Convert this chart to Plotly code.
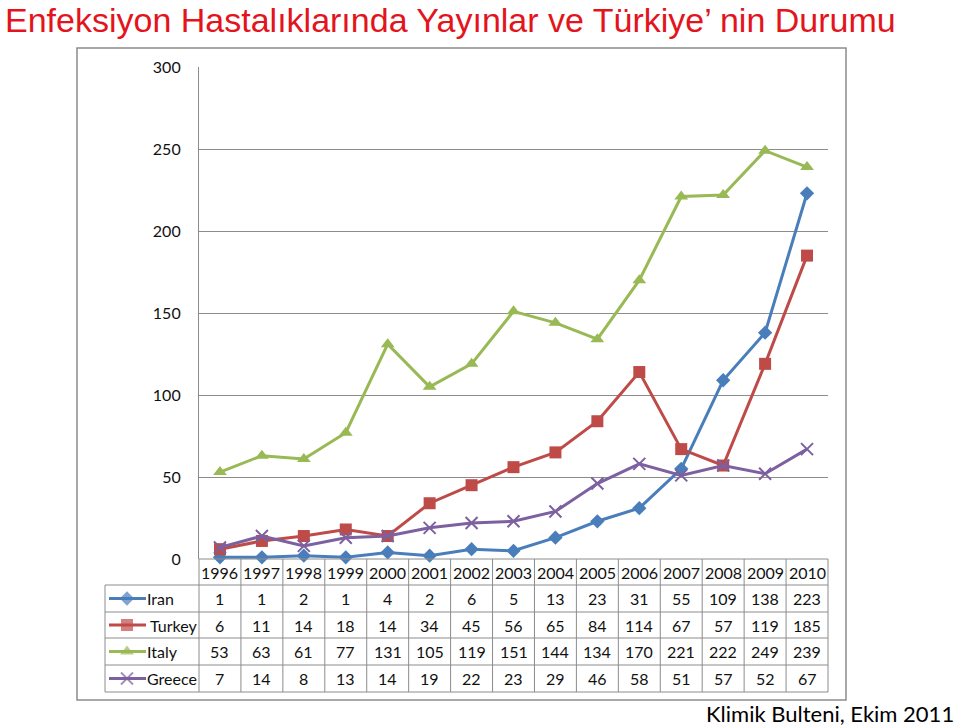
import plotly.graph_objects as go

years = ["1996", "1997", "1998", "1999", "2000", "2001", "2002", "2003",
         "2004", "2005", "2006", "2007", "2008", "2009", "2010"]
iran = [1, 1, 2, 1, 4, 2, 6, 5, 13, 23, 31, 55, 109, 138, 223]
turkey = [6, 11, 14, 18, 14, 34, 45, 56, 65, 84, 114, 67, 57, 119, 185]
italy = [53, 63, 61, 77, 131, 105, 119, 151, 144, 134, 170, 221, 222, 249, 239]
greece = [7, 14, 8, 13, 14, 19, 22, 23, 29, 46, 58, 51, 57, 52, 67]

series_names = ["Iran", "Turkey", "Italy", "Greece"]
series_values = [iran, turkey, italy, greece]
colors = ["#4A7EBB", "#BE4B48", "#98B954", "#7D60A0"]
symbols = ["diamond", "square", "triangle-up", "x-thin"]
msizes = [11, 12, 12, 12]

W, H = 960, 728
PX0, PX1 = 199, 828      # plot area left/right (px)
PY_TOP, PY_BOT = 67, 559  # plot area top/bottom (px)


def px(x):
    return x / W


def py(y):
    return 1 - y / H


fig = go.Figure()

for name, vals, c, s, ms in zip(series_names, series_values, colors, symbols, msizes):
    fig.add_trace(go.Scatter(
        x=years, y=vals, name=name, mode="lines+markers",
        line=dict(color=c, width=3),
        marker=dict(symbol=s, size=ms, color=c,
                    line=dict(color=c, width=2 if s == "x-thin" else 0)),
        cliponaxis=False, showlegend=False,
    ))

# table geometry (pixels)
tab_left = 105
row_edges = [559, 585, 612, 638, 665, 692]
ncat = len(years)
cw = (PX1 - PX0) / ncat
lc = "#8C8C8C"

shapes = []
# horizontal lines
shapes.append(dict(type="line", xref="paper", yref="paper",
                   x0=px(PX0), x1=px(PX1), y0=py(row_edges[0]), y1=py(row_edges[0]),
                   line=dict(color=lc, width=1)))
for ry in row_edges[1:]:
    shapes.append(dict(type="line", xref="paper", yref="paper",
                       x0=px(tab_left), x1=px(PX1), y0=py(ry), y1=py(ry),
                       line=dict(color=lc, width=1)))
# vertical lines
for i in range(ncat + 1):
    xx = PX0 + i * cw
    shapes.append(dict(type="line", xref="paper", yref="paper",
                       x0=px(xx), x1=px(xx), y0=py(row_edges[0]), y1=py(row_edges[-1]),
                       line=dict(color=lc, width=1)))
shapes.append(dict(type="line", xref="paper", yref="paper",
                   x0=px(tab_left), x1=px(tab_left), y0=py(row_edges[1]), y1=py(row_edges[-1]),
                   line=dict(color=lc, width=1)))
# outer box
shapes.append(dict(type="rect", xref="paper", yref="paper",
                   x0=px(77), x1=px(846), y0=py(48), y1=py(700),
                   line=dict(color="#8C8C8C", width=1.5), layer="below"))

annotations = []
tfont = dict(family="Lato, Open Sans, sans-serif", size=16, color="#111111")
# header
hy = (row_edges[0] + row_edges[1]) / 2
for i, yr in enumerate(years):
    annotations.append(dict(x=i, y=py(hy), xref="x", yref="paper", text=yr,
                            showarrow=False, font=tfont, xanchor="center", yanchor="middle"))
for r, (name, vals, c, s, ms) in enumerate(zip(series_names, series_values, colors, symbols, msizes)):
    cy = (row_edges[r + 1] + row_edges[r + 2]) / 2
    for i, v in enumerate(vals):
        annotations.append(dict(x=i, y=py(cy), xref="x", yref="paper", text=str(v),
                                showarrow=False, font=tfont, xanchor="center", yanchor="middle"))
    annotations.append(dict(x=px(145 if name != "Turkey" else 148), y=py(cy), xref="paper", yref="paper",
                            text=name, showarrow=False, font=tfont,
                            xanchor="left", yanchor="middle"))
    # legend key
    fig.add_trace(go.Scatter(
        x=[109, 127, 146], y=[cy, cy, cy], xaxis="x2", yaxis="y2",
        mode="lines+markers", line=dict(color=c, width=3),
        marker=dict(symbol=s, size=[0, ms, 0], color=c,
                    line=dict(color=c, width=2 if s == "x-thin" else 0)),
        showlegend=False, hoverinfo="skip", cliponaxis=False,
    ))

# title
annotations.append(dict(x=px(3), y=py(20), xref="paper", yref="paper",
                        text="Enfeksiyon Hastalıklarında Yayınlar ve Türkiye’ nin Durumu",
                        showarrow=False, xanchor="left", yanchor="middle",
                        font=dict(family="Liberation Sans, Arial, sans-serif", size=34, color="#E3141B")))
# source
annotations.append(dict(x=px(956), y=py(713), xref="paper", yref="paper",
                        text="Klimik Bulteni, Ekim 2011", showarrow=False,
                        xanchor="right", yanchor="middle",
                        font=dict(family="Lato, sans-serif", size=22, color="#000000")))

fig.update_layout(
    width=W, height=H, showlegend=False,
    margin=dict(l=0, r=0, t=0, b=0, pad=0, autoexpand=False),
    paper_bgcolor="white", plot_bgcolor="rgba(0,0,0,0)",
    shapes=shapes, annotations=annotations,
    xaxis=dict(type="category", categoryorder="array", categoryarray=years,
               range=[-0.5, ncat - 0.5], automargin=False,
               domain=[px(PX0), px(PX1)], showticklabels=False, showgrid=False,
               zeroline=False, showline=False, ticks=""),
    yaxis=dict(range=[0, 300], domain=[py(PY_BOT), py(PY_TOP)], automargin=False,
               tickvals=[0, 50, 100, 150, 200, 250, 300],
               showgrid=True, gridcolor="#8C8C8C", gridwidth=1.2,
               zeroline=False, showline=True, linecolor="#8C8C8C", linewidth=1.2,
               ticks="", ticklabelstandoff=14,
               tickfont=dict(family="Lato, sans-serif", size=16, color="#111111")),
    xaxis2=dict(domain=[0, 1], range=[0, W], visible=False, anchor="y2", automargin=False),
    yaxis2=dict(domain=[0, 1], range=[H, 0], visible=False, anchor="x2", automargin=False),
)

fig.write_html("out.html")
